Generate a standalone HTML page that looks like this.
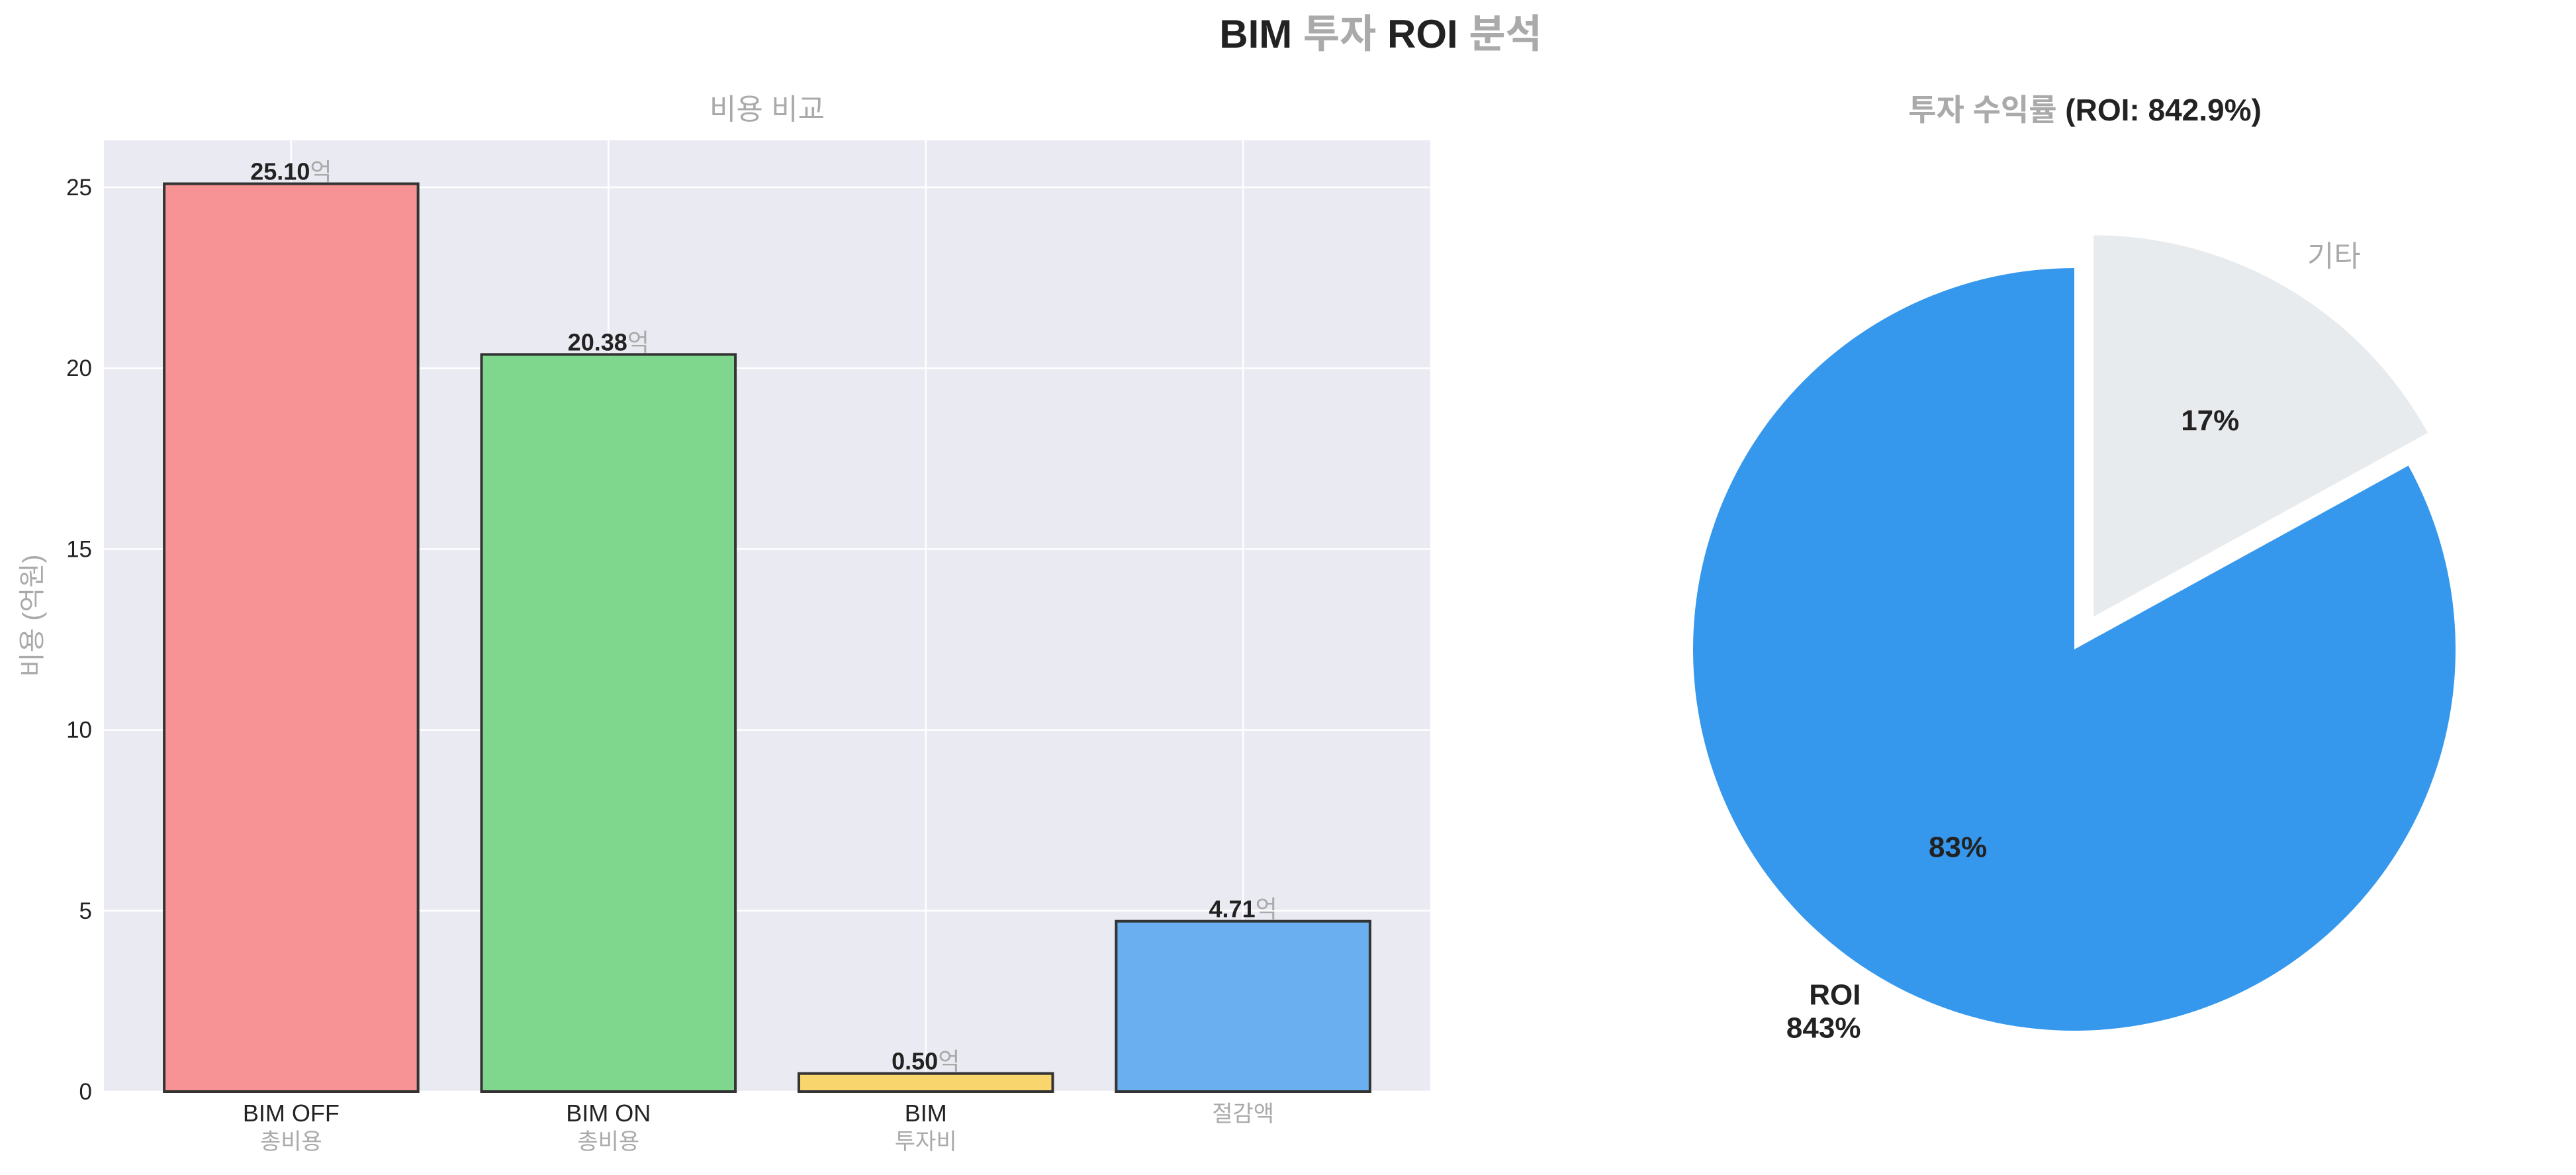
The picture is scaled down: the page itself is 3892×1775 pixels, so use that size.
<!DOCTYPE html>
<html><head><meta charset="utf-8"><style>
body{margin:0;background:#fff}
svg text{font-family:"Liberation Sans","Noto Sans CJK KR",sans-serif}
</style></head><body>
<svg id="s" width="3892" height="1770" xmlns="http://www.w3.org/2000/svg">
<text x="2086" y="72" text-anchor="middle" font-size="60" font-weight="bold" fill="#222">BIM <tspan fill="#aaa">투자</tspan> ROI <tspan fill="#aaa">분석</tspan></text>
<text x="1159" y="180" text-anchor="middle" font-size="44" fill="#aaa">비용 비교</text>
<text x="3150" y="182" text-anchor="middle" font-size="46" font-weight="bold" fill="#222"><tspan fill="#aaa">투자 수익률</tspan> (ROI: 842.9%)</text>
<text transform="translate(62,930) rotate(-90)" text-anchor="middle" font-size="40" fill="#aaa">비용 (억원)</text>
<g id="bars"></g>
<g id="pie"></g>
</svg>
<script>
const categories=["BIM OFF|총비용","BIM ON|총비용","BIM|투자비","절감액"];
const values=[25.10,20.38,0.50,4.71];
const barColors=["#f79394","#7fd78e","#f9d56e","#6aaff0"];
const yTicks=[0,5,10,15,20,25];
const pieLabels=["ROI|843%","기타"];
const pieValues=[83,17];
const pieColors=["#3598ec","#e8ebee"];
const NS="http://www.w3.org/2000/svg";
function mk(t,a,p){const e=document.createElementNS(NS,t);for(const k in a)e.setAttribute(k,a[k]);p.appendChild(e);return e;}
const L=157,R=2161,T=212,B=1649,ymax=26.3,xmin=-0.59,xmax=3.59;
const y=v=>B-(v/ymax)*(B-T);
const x=i=>L+(i-xmin)/(xmax-xmin)*(R-L);
const g=document.getElementById('bars');
const bg=mk('rect',{x:L,y:T,width:R-L,height:B-T,fill:'#eaeaf2'},g);


yTicks.forEach(t=>{
 const l=mk('line',{x1:L,x2:R,y1:y(t),y2:y(t),stroke:'#fff','stroke-width':2.5},g);
 
 
 const tx=mk('text',{x:L-18,y:y(t)+12,'text-anchor':'end','font-size':35,fill:'#222'},g);
 tx.textContent=t;
 
 
});
categories.forEach((c,i)=>{
 const l=mk('line',{x1:x(i),x2:x(i),y1:T,y2:B,stroke:'#fff','stroke-width':2.5},g);
 
 
});
const bw=0.8*(x(1)-x(0));
categories.forEach((c,i)=>{
 const r=mk('rect',{x:x(i)-bw/2,y:y(values[i]),width:bw,height:B-y(values[i]),fill:barColors[i],stroke:'#333','stroke-width':4},g);
 
 
 const v=mk('text',{x:x(i),y:y(values[i])-6,'text-anchor':'middle','font-size':36,'font-weight':'bold',fill:'#222'},g);
 v.innerHTML=values[i].toFixed(2)+'<tspan fill="#aaa" font-weight="normal">억</tspan>';
 
 
 const parts=c.split('|');
 parts.forEach((p,j)=>{
  const isK=/[가-힣]/.test(p);
  const t=mk('text',{x:x(i),y:1694+j*42,'text-anchor':'middle','font-size':isK?34:36,fill:isK?'#aaa':'#222'},g);
  t.textContent=p;
  
  
 });
});
const pg=document.getElementById('pie');
const cx=3134,cy=981,rad=576;
const tot=pieValues.reduce((a,b)=>a+b,0);
let a0=90;
pieValues.forEach((v,i)=>{
 const sweep=v/tot*360,a1=a0+sweep,mid=(a0+a1)/2*Math.PI/180;
 const ex=i===1?0.1*rad:0;
 const ox=cx+ex*Math.cos(mid),oy=cy-ex*Math.sin(mid);
 const p=(a)=>[ox+rad*Math.cos(a*Math.PI/180),oy-rad*Math.sin(a*Math.PI/180)];
 const [x0,y0]=p(a0),[x1,y1]=p(a1);
 const s=mk('path',{d:`M${ox},${oy}L${x0},${y0}A${rad},${rad} 0 ${sweep>180?1:0} 0 ${x1},${y1}Z`,fill:pieColors[i]},pg);
 
 
 const pc=mk('text',{x:ox+0.6*rad*Math.cos(mid),y:oy-0.6*rad*Math.sin(mid)+16,'text-anchor':'middle','font-size':44,'font-weight':'bold',fill:'#222'},pg);
 pc.textContent=Math.round(v/tot*100)+'%';
 
 
 const lx=ox+1.1*rad*Math.cos(mid),ly=oy-1.1*rad*Math.sin(mid);
 const parts=pieLabels[i].split('|');
 const anchor=Math.cos(mid)<0?'end':'start';
 parts.forEach((pt,j)=>{
  const isK=/[가-힣]/.test(pt);
  const t=mk('text',{x:lx,y:ly+(j-(parts.length-1)/2)*50+16,'text-anchor':anchor,'font-size':44,'font-weight':isK?'normal':'bold',fill:isK?'#aaa':'#222'},pg);
  t.textContent=pt;
  
  
 });
 a0=a1;
});
</script>
</body></html>
